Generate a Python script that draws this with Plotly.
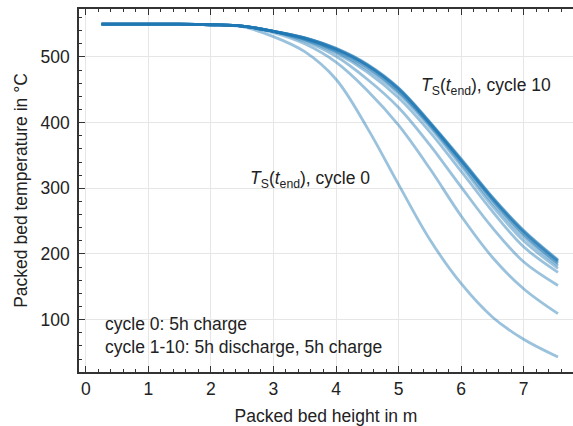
import plotly.graph_objects as go

height_m = [0.25, 1.0, 1.5, 2.0, 2.5, 3.0, 3.5, 4.0, 4.5, 5.0, 5.5, 6.0, 6.5, 7.0, 7.55]

cycle_0 = [550, 550, 550, 549, 546, 531, 508, 466, 392, 306, 222, 155, 104, 70, 43]
cycle_1 = [550, 550, 550, 549, 547, 537, 520, 492, 449, 396, 330, 258, 195, 147, 109]
cycle_2 = [550, 550, 550, 549, 547, 539, 524, 501, 466, 423, 366, 302, 240, 188, 152]
cycle_3 = [550, 550, 550, 549, 547, 539, 526, 506, 477, 438, 386, 326, 265, 211, 172]
cycle_4 = [550, 550, 550, 549, 547, 539, 527, 508, 481, 444, 393, 334, 273, 220, 178]
cycle_5 = [550, 550, 550, 549, 547, 539, 528, 510, 484, 447, 396, 338, 278, 226, 182]
cycle_6 = [550, 550, 550, 549, 547, 539, 528, 511, 486, 449, 398, 341, 282, 230, 185]
cycle_7 = [550, 550, 550, 549, 547, 539, 529, 512, 487, 451, 399, 342, 284, 232, 187]
cycle_8 = [550, 550, 550, 549, 547, 539, 529, 512, 488, 452, 400, 343, 285, 234, 189]
cycle_9 = [550, 550, 550, 549, 547, 539, 529, 513, 488, 452, 400, 344, 286, 235, 190]
cycle_10 = [550, 550, 550, 549, 547, 539, 529, 513, 489, 453, 401, 345, 287, 236, 191]

cycles = [cycle_0, cycle_1, cycle_2, cycle_3, cycle_4, cycle_5,
          cycle_6, cycle_7, cycle_8, cycle_9, cycle_10]

x_ticks = [0, 1, 2, 3, 4, 5, 6, 7]
y_ticks = [100, 200, 300, 400, 500]

FONT = "Liberation Sans, Arial, sans-serif"
FS = 17.5
TXT = "#222222"
AX = "#333333"

fig = go.Figure()
for i, c in enumerate(cycles):
    fig.add_trace(go.Scatter(
        x=height_m, y=c, mode="lines", name=f"cycle {i}",
        line=dict(color="rgba(31,119,180,0.45)", width=2.8, shape="spline", smoothing=1.0),
        showlegend=False, hoverinfo="skip"))

axis_common = dict(
    showline=True, linecolor=AX, linewidth=1.5,
    ticks="inside", ticklen=6, tickwidth=1.2, tickcolor=AX,
    showgrid=True, gridcolor="#e6e6e6", gridwidth=1,
    zeroline=False,
    tickfont=dict(family=FONT, size=FS, color=TXT),
)

fig.update_xaxes(
    range=[-0.11, 7.79], tickvals=x_ticks, mirror="ticks",
    minor=dict(dtick=0.2, ticks="inside", ticklen=3, tickwidth=1, tickcolor=AX, showgrid=False),
    title=dict(text="Packed bed height in m", font=dict(family=FONT, size=FS, color=TXT), standoff=15),
    **axis_common)
fig.update_yaxes(
    range=[20.2, 573], tickvals=y_ticks, ticklabelstandoff=4,
    minor=dict(dtick=20, ticks="inside", ticklen=3, tickwidth=1, tickcolor=AX, showgrid=False),
    title=dict(text="Packed bed temperature in °C", font=dict(family=FONT, size=FS, color=TXT), standoff=8),
    **axis_common)

ann_font = dict(family=FONT, size=FS, color=TXT)
fig.add_annotation(x=5.32, y=455, xref="x", yref="y", xanchor="left", yanchor="middle",
                   text="<i>T</i><sub>S</sub>(<i>t</i><sub>end</sub>), cycle 10",
                   showarrow=False, font=ann_font)
fig.add_annotation(x=2.6, y=313, xref="x", yref="y", xanchor="left", yanchor="middle",
                   text="<i>T</i><sub>S</sub>(<i>t</i><sub>end</sub>), cycle 0",
                   showarrow=False, font=ann_font)
fig.add_annotation(x=0.27, y=76, xref="x", yref="y", xanchor="left", yanchor="middle",
                   text="cycle 0: 5h charge<br>cycle 1-10: 5h discharge, 5h charge",
                   align="left", showarrow=False, font=ann_font)

fig.update_layout(
    width=573, height=426,
    margin=dict(l=79, r=0, t=9, b=52),
    plot_bgcolor="white", paper_bgcolor="white",
    font=dict(family=FONT, size=FS, color=TXT),
)

fig.write_html("out.html")
